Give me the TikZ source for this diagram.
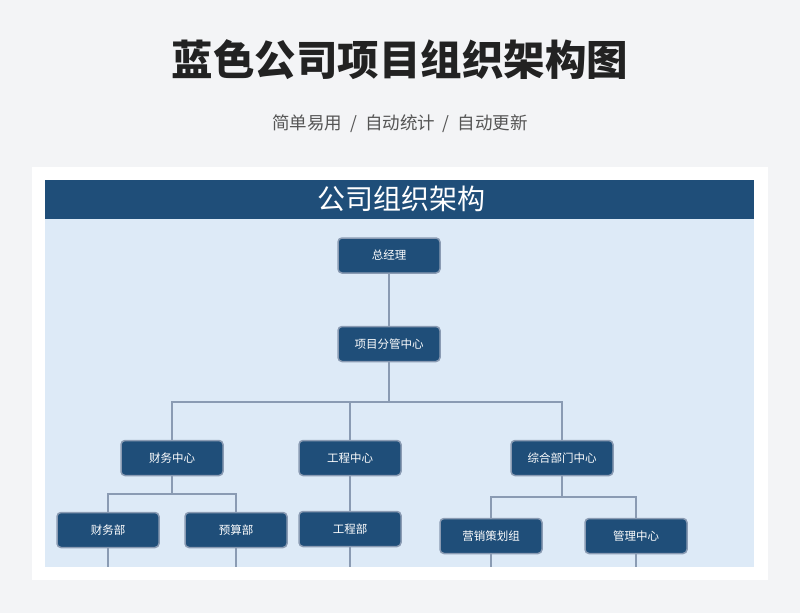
\documentclass[tikz,border=0pt]{standalone}
\usepackage{fontspec}
\newfontfamily\cjk{Noto Sans CJK SC}
\usetikzlibrary{
    calc,
    positioning
}
\definecolor{pagegray}{HTML}{F3F4F6}
\definecolor{darkblue}{HTML}{1F4E79}
\definecolor{paleblue}{HTML}{DDEAF7}
\definecolor{edgeblue}{HTML}{8A9BB3}
\definecolor{titlegray}{HTML}{222222}
\definecolor{subgray}{HTML}{555555}
\tikzset{
    unit/.style={draw=edgeblue, line width=1.5pt, fill=darkblue, rounded corners=4pt,
        minimum width=102pt, minimum height=35pt, text=white, font=\cjk\fontsize{11.5}{13}\selectfont},
    link/.style={draw=edgeblue, line width=1.1pt}
}

\begin{document}
\begin{tikzpicture}[x=1pt, y=-1pt]
                        \useasboundingbox[fill=pagegray] (0, 0) rectangle (800, 613);
                        % card and header
                        \fill[white] (32, 167) rectangle (768, 580);
                        \fill[paleblue] (45, 219) rectangle (754, 567);
                        \fill[darkblue] (45, 180) rectangle (754, 219);
                        \node[text=titlegray] (title) at (400, 60) {\cjk\bfseries\fontsize{41.5}{46}\selectfont 蓝色公司项目组织架构图};
                        \node[text=subgray] (sub) at (400, 124) {\cjk\fontsize{17.5}{20}\selectfont 简单易用 ~/~ 自动统计 ~/~ 自动更新};
                        \node[text=white] (head) at (401, 199) {\cjk\fontsize{28}{30}\selectfont 公司组织架构};
                        % units
                        \node[unit] (gm) at (389, 255.5) {总经理};
                        \node[unit] (pm) at (389, 344) {项目分管中心};
                        \node[unit] (fc) at (172, 458) {财务中心};
                        \node[unit] (ec) at (350, 458) {工程中心};
                        \node[unit] (gc) at (562, 458) {综合部门中心};
                        \node[unit] (fd) at (108, 530) {财务部};
                        \node[unit] (bd) at (236, 530) {预算部};
                        \node[unit] (ed) at (350, 529) {工程部};
                        \node[unit] (mk) at (491, 536) {营销策划组};
                        \node[unit] (mc) at (636, 536) {管理中心};
                        % bus levels and free ends
                        \coordinate (pmbus) at (389, 402);
                        \coordinate (fcbus) at (172, 494);
                        \coordinate (gcbus) at (562, 497);
                        \coordinate (fdend) at (108, 567);
                        \coordinate (bdend) at (236, 567);
                        \coordinate (edend) at (350, 567);
                        \coordinate (mkend) at (491, 567);
                        \coordinate (mcend) at (636, 567);
                        \draw[link]
                        (gm) -- (pm)
                        (pm) -- (pmbus) -| (fc)
                        (pmbus) -| (ec)
                        (pmbus) -| (gc)
                        (fc) -- (fcbus) -| (fd)
                        (fcbus) -| (bd)
                        (ec) -- (ed)
                        (gc) -- (gcbus) -| (mk)
                        (gcbus) -| (mc)
                        (fd) -- (fdend)
                        (bd) -- (bdend)
                        (ed) -- (edend)
                        (mk) -- (mkend)
                        (mc) -- (mcend);
\end{tikzpicture}
\end{document}
